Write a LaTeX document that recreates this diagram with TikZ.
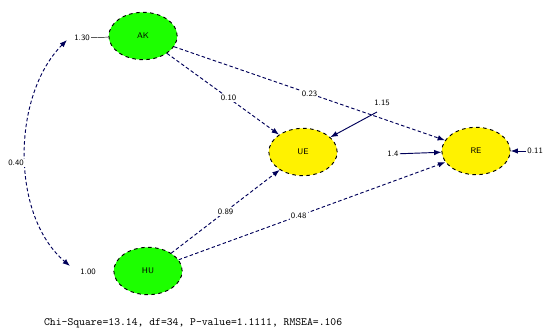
\documentclass[tikz,border=0pt]{standalone}
\usepackage{tikz}
\usetikzlibrary{arrows.meta, shapes.geometric}

\begin{document}
\begin{tikzpicture}[x=0.03cm, y=-0.03cm,
    latent/.style={ellipse, draw=black, thick, dashed, minimum width=2.05cm,
                   minimum height=1.42cm, inner sep=0pt, font=\sffamily\scriptsize},
    exo/.style={latent, fill=green!85!lime},
    endo/.style={latent, fill=yellow},
    path/.style={thick, densely dashed, draw=blue!35!black, -{Latex[length=2.2mm]}},
    lab/.style={font=\sffamily\scriptsize, fill=white, inner sep=1pt}]
  \useasboundingbox (0,0) rectangle (547,329);
  % variaveis latentes
  \node[exo]  (AK) at (143,36)  {AK};
  \node[exo]  (HU) at (148,271) {HU};
  \node[endo] (UE) at (303,152) {UE};
  \node[endo] (RE) at (476,151) {RE};
  % variancias das exogenas
  \node[lab] (vAK) at (82,38)  {1.30};
  \node[lab] (vHU) at (88,272) {1.00};
  \draw (vAK) -- (AK);
  % correlacao entre AK e HU
  \coordinate (cTop) at (67,40);
  \coordinate (cBot) at (70,266);
  \draw[thick, densely dashed, draw=blue!35!black, {Latex[length=2.2mm]}-{Latex[length=2.2mm]}]
    (cTop) .. controls (12,95) and (10,215) .. (cBot);
  \node[lab] (cov) at (16,163) {0.40};
  % caminhos estruturais
  \draw[path] (AK) -- node[lab, pos=0.55] {0.10} (UE);
  \draw[path] (AK) -- node[lab, pos=0.5] {0.23} (RE);
  \draw[path] (HU) -- node[lab, pos=0.5] {0.89} (UE);
  \draw[path] (HU) -- node[lab, pos=0.45] {0.48} (RE);
  % erros
  \node[lab] (eUE) at (382,103) {1.15};
  \coordinate (sUE) at (377,112);
  \draw[thick, draw=blue!35!black, -{Latex[length=2.2mm]}] (sUE) -- (UE);
  \node[lab] (eRE) at (393,154) {1.4};
  \draw[thick, draw=blue!35!black, -{Latex[length=2.2mm]}] (eRE) -- (RE);
  \node[lab, anchor=west] (rRE) at (526,151) {0.11};
  \draw[thick, draw=blue!35!black, -{Latex[length=2.2mm]}] (rRE) -- (RE);
  % ajuste
  \node[font=\ttfamily\fontsize{9.5}{11}\selectfont, anchor=west] (fit) at (40,323)
    {Chi-Square=13.14, df=34, P-value=1.1111, RMSEA=.106};
\end{tikzpicture}
\end{document}
